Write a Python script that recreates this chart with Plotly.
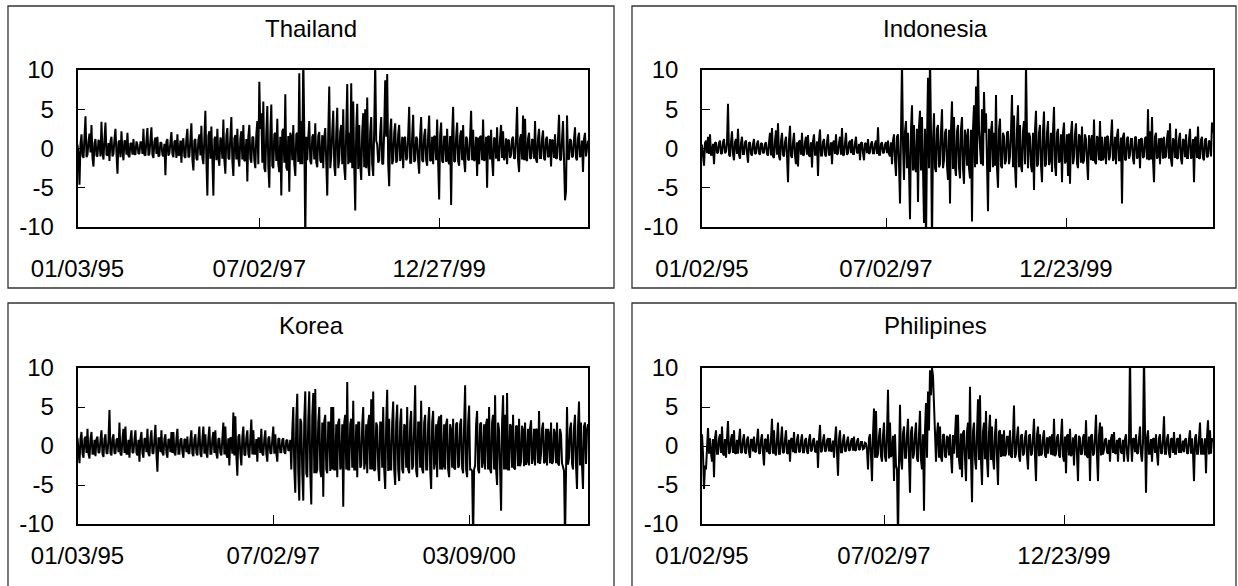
import plotly.graph_objects as go

# ---------------- data (daily returns) ----------------
thailand = [
    0.5, -0.8, -4.6, 0.6, 1.8, -0.9, -1.2, 1.0, 4.1, -1.1, -0.8, 0.9, 1.9, -0.5, 3.0, -1.2, -2.3, 0.7, 1.2, -0.9, -1.0, 1.1, 0.8, -1.0, 3.4, -0.6, -1.4, 1.2, 3.3, -0.8, -0.9, 0.7,
    -1.6, 0.9, 1.5, -1.0, -0.7, 1.2, 2.5, -0.6, -3.2, 0.8, 1.0, -1.1, 2.2, -0.4, -1.5, 1.0, 0.9, -0.8, 2.0, -0.9, -1.1, 0.7, 0.6, -0.8, 1.2, -0.7, -0.8, 0.9, 0.5, -0.7, -0.6, 0.8,
    0.8, -0.7, 2.5, -0.8, -0.9, 1.0, 2.6, -0.9, -0.7, 1.1, 2.7, -0.8, -1.2, 0.9, 1.4, -0.7, 1.5, -1.0, -0.9, 0.8, 0.7, -0.8, -1.0, 0.6, -3.4, 0.9, 1.2, -0.9, -0.6, 0.8, 2.1, -0.7,
    -1.1, 0.9, 1.0, -1.2, 1.8, -0.9, -0.8, 1.0, -1.8, 0.8, 1.3, -1.0, -1.2, 1.3, 2.5, -1.1, -1.0, 1.2, 3.2, -1.4, -2.8, 1.0, 1.2, -1.3, -1.5, 1.1, 1.8, -0.9, 2.9, -1.2, -2.0, 1.4,
    4.8, -1.5, -6.0, 1.6, 2.2, -1.3, 2.8, -1.4, -6.0, 1.2, 1.5, -1.5, 2.5, -1.2, -2.2, 1.4, 1.0, -1.3, 3.7, -1.5, -3.2, 1.6, 2.6, -1.2, -1.4, 1.5, 4.0, -1.6, -3.5, 1.3, 1.7, -1.4,
    2.5, -1.2, -2.3, 1.3, 2.2, -1.4, 3.0, -1.6, -1.5, 1.2, -4.2, 1.5, 3.0, -1.3, -1.8, 1.4, 1.5, -1.5, -2.5, 1.8, 3.5, -2.0, 8.5, 2.5, 4.5, -1.8, 6.0, -2.5, -3.0, 2.0, 5.4, -2.2,
    -5.0, 2.0, 5.6, -2.2, -2.5, 1.8, 2.0, -1.6, 3.8, -2.0, -3.0, 1.5, -6.0, 2.2, 2.5, -1.8, 6.9, -2.4, -2.8, 1.6, -5.5, 2.0, 1.5, -1.5, 3.0, -2.0, -3.5, 1.8, 2.0, -1.7, 9.6, -2.0,
    3.5, -2.0, 12.0, 2.0, -12.0, 1.5, -1.5, 1.4, 3.5, -1.6, -2.0, 1.5, 1.8, -1.4, 3.2, -1.8, -2.4, 1.6, 2.1, -1.5, -1.8, 1.7, -2.5, 1.4, 2.6, -1.8, -6.0, 2.0, 7.9, -2.5, -1.0, 2.2,
    4.8, -2.2, -3.5, 2.0, 5.2, -2.5, -1.5, 2.2, 3.0, -2.0, 5.0, -2.4, -4.0, 2.5, 8.2, -2.0, 2.0, -1.8, 8.3, -2.5, 6.0, -2.2, -7.9, 2.4, 5.7, -2.6, 3.0, -2.0, -4.0, 2.2, 4.5, -2.4,
    5.0, -2.5, 6.5, -2.0, -3.5, 2.2, 4.0, -2.0, -3.5, 2.5, 11.0, 1.0, 0.5, -1.8, -1.5, 2.0, 4.0, -1.9, -2.0, 2.4, 8.7, 1.5, 9.5, -2.0, -4.8, 2.2, 3.8, -2.0, -1.5, 2.0, 3.2, -1.8,
    -1.5, 1.8, 3.0, -1.6, -1.0, 1.5, -2.5, 1.3, 1.5, -1.5, -1.2, 1.7, 5.3, -1.8, -1.8, 1.6, 4.3, -1.7, -1.5, 1.5, 1.2, -1.6, -3.2, 1.8, 4.0, -1.5, -1.7, 1.6, 2.5, -1.5, -2.2, 1.7,
    4.2, -1.6, -1.5, 1.5, -2.0, 1.6, 1.5, -1.5, 3.7, -1.8, -6.5, 1.7, 3.3, -1.6, -1.8, 1.5, 1.5, -1.7, 2.5, -1.5, -2.0, 1.6, -7.2, 1.8, 5.3, -1.7, -1.6, 1.5, 3.3, -1.6, -2.2, 1.6,
    2.3, -1.5, 3.0, -1.6, -3.0, 1.5, 1.2, -1.4, -1.5, 1.6, 4.8, -1.5, 2.4, -1.6, -1.3, 1.5, -3.5, 1.4, -2.0, 1.5, 1.6, -1.5, 3.7, -1.6, -1.2, 1.5, -5.0, 1.6, 1.5, -1.4, 2.4, -1.5,
    -3.5, 1.4, 1.2, -1.3, 2.7, -1.5, -1.5, 1.4, 3.0, -1.2, 2.2, -1.5, -1.0, 1.3, -2.0, 1.1, 1.0, -1.2, -0.8, 1.2, 1.5, -1.3, -1.2, 1.4, 5.3, -1.5, -3.0, 1.3, 1.8, -1.4, 4.2, -1.5,
    3.8, -1.4, -1.6, 1.3, 2.0, -1.2, -1.3, 1.2, 1.0, -1.3, 3.5, -1.4, -1.8, 1.3, 2.5, -1.2, -1.2, 1.3, 2.3, -1.3, -1.5, 1.2, 1.5, -1.1, -0.9, 1.2, -2.3, 1.1, 1.0, -1.2, 1.8, -1.3,
    -1.2, 1.3, 4.3, -1.4, -1.5, 1.2, 3.5, -1.5, -6.6, -5.5, 4.2, -1.3, -1.4, 1.2, 1.0, -1.1, -1.0, 1.2, 2.7, -1.2, -1.5, 1.3, 2.0, -1.1, -0.8, 1.0, -3.0, 1.2, 2.0, -1.0, 0.5, 1.0,
]

indonesia = [
    0.5, -0.8, -2.2, 0.7, 1.0, -0.6, 1.5, -0.7, 1.8, -0.8, -0.8, 0.6, -2.0, 0.7, 0.8, -0.6, -0.5, 0.7, 1.0, -0.7, -0.6, 0.8, 1.2, -0.6, -0.4, 0.7, 5.7, -0.8, -1.0, 0.8, 2.2, -0.7,
    -1.5, 0.8, 1.2, -0.7, 2.5, -0.8, -1.3, 0.7, 1.5, -0.7, -0.7, 0.8, 1.0, -0.6, -1.8, 0.7, 0.8, -0.7, -0.9, 0.6, 1.2, -0.7, -0.6, 0.6, 1.0, -0.6, -0.8, 0.7, 0.6, -0.6, -0.5, 0.6,
    0.8, -0.7, -0.9, 0.8, 2.0, -0.9, 2.6, -1.0, -1.2, 0.9, 2.3, -0.8, 3.2, -1.0, -1.5, 0.9, 2.0, -0.8, -1.0, 0.8, 1.5, -0.9, -4.3, 1.0, 2.9, -0.9, -1.2, 0.8, 2.0, -0.9, -2.0, 0.8,
    -2.3, 0.9, 1.0, -0.8, 2.0, -0.9, -0.8, 0.8, 1.5, -0.8, 1.7, -0.9, -1.0, 0.8, -2.4, 0.9, 1.8, -0.8, -0.8, 0.9, -3.5, 1.0, 2.4, -0.9, -0.9, 0.8, 1.2, -0.8, -1.0, 0.8, 1.8, -0.9,
    -0.7, 0.8, -2.0, 0.7, 1.0, -0.7, 1.8, -0.8, -0.6, 0.7, 1.5, -0.8, 2.6, -0.9, -0.8, 0.7, 2.0, -0.8, -0.6, 0.7, 1.0, -0.6, 1.2, -0.7, -0.7, 0.7, 1.5, -0.6, -0.5, 0.6, -1.5, 0.7,
    0.8, -0.6, -1.5, 0.7, 0.6, -0.6, 1.2, -0.7, -0.5, 0.6, 0.9, -0.6, -0.6, 0.6, 1.0, -0.7, 2.7, -0.8, -0.8, 0.6, 0.8, -0.6, -0.5, 0.5, 0.8, -0.6, 1.0, -0.7, -1.0, 0.8, -2.0, 1.0,
    1.8, -1.5, -3.5, 1.5, 1.8, -2.0, -7.0, 2.0, 11.0, 0.5, -4.0, 2.2, 3.5, -2.5, 2.0, -2.5, -9.0, 2.5, 5.5, -2.8, 3.0, -2.5, -3.0, 2.5, -6.8, 2.8, 4.8, -2.8, 4.0, -2.5, -9.5, 2.5,
    -12.0, 1.0, 9.0, -2.5, 12.0, 2.0, -12.0, 1.0, 4.5, -2.5, -3.0, 2.5, 3.0, -2.4, -2.0, 2.2, 5.0, -2.5, -1.5, 2.0, 2.5, -2.2, -4.0, 2.4, -7.0, 2.5, 6.0, -2.6, 4.0, -2.4, -3.5, 2.2,
    3.0, -2.4, -3.8, 2.5, 4.0, -2.5, -4.5, 2.4, 1.5, -2.2, 2.5, -2.5, -3.8, 2.4, -9.3, 2.5, 5.5, -2.4, 7.9, -2.0, 11.0, 2.5, 0.5, -2.0, 5.0, -2.2, 7.2, 2.0, 4.5, -2.4, -8.0, 2.5,
    -3.0, 2.2, 3.5, -2.4, 2.0, -2.2, 6.8, -2.5, -5.0, 2.4, 3.8, -2.2, -2.5, 2.0, 1.5, -2.0, -1.5, 2.0, 2.2, -2.0, -1.0, 2.2, 6.8, -2.4, 4.2, -2.2, -5.0, 2.5, 5.5, -2.4, 3.0, -2.2,
    -3.0, 2.2, 3.5, -2.0, 11.0, 1.5, -2.5, 2.0, 1.5, -2.2, -3.0, 2.0, -5.3, 2.4, 4.8, -2.3, -2.0, 2.0, 3.0, -2.2, -4.3, 2.2, 4.7, -2.3, -2.0, 2.0, 3.5, -2.1, -1.5, 2.0, -3.0, 2.2,
    5.3, -2.2, -3.5, 2.0, 2.5, -1.8, -1.5, 1.8, -4.3, 2.0, 3.3, -1.9, -1.5, 1.8, -3.5, 1.9, -4.5, 2.0, 3.5, -2.0, -1.2, 1.8, 3.2, -1.9, -2.5, 1.8, 1.5, -1.8, 2.8, -1.9, -1.5, 1.8,
    1.2, -1.6, -4.0, 1.7, 1.0, -1.5, 1.7, -1.6, 3.7, -1.7, -2.0, 1.6, 1.2, -1.5, 3.5, -1.6, 1.5, -1.5, -1.0, 1.5, -2.0, 1.6, 1.5, -1.5, -1.0, 1.5, 3.7, -1.6, -1.2, 1.5, -2.0, 1.6,
    2.5, -1.5, -1.5, 1.4, -7.0, 1.5, 2.0, -1.4, -1.5, 1.3, 1.5, -1.3, -0.8, 1.2, 1.2, -1.3, -2.0, 1.4, 1.5, -1.3, -1.0, 1.2, -2.5, 1.3, 1.2, -1.2, -1.0, 1.3, 1.5, -1.4, 5.0, -1.5,
    2.2, -1.4, 4.0, -1.5, -4.3, 1.5, 2.0, -1.3, -1.0, 1.3, -2.0, 1.3, 1.2, -1.3, 1.5, -1.2, -1.0, 1.2, 2.3, -1.3, 3.2, -1.4, -2.3, 1.3, 1.0, -1.2, 2.5, -1.3, -1.2, 1.2, 2.0, -1.3,
    -2.0, 1.2, 1.0, -1.1, 1.8, -1.2, -1.2, 1.2, 2.5, -1.3, -1.0, 1.2, -4.3, 1.3, 1.5, -1.2, 2.8, -1.3, -1.2, 1.1, 1.5, -1.2, -1.5, 1.1, 1.3, -1.1, -1.0, 1.0, 0.8, -1.0, 3.3, 2.0,
]

korea = [
    1.0, -1.0, -2.2, 0.9, 1.8, -1.0, -1.5, 0.9, 1.2, -0.9, 2.2, -1.0, -1.6, 0.9, 1.8, -1.0, -1.0, 0.8, -1.3, 0.9, 1.2, -0.9, -0.8, 0.8, 2.0, -1.0, -1.4, 0.9, 1.5, -0.9, -1.0, 0.8,
    4.6, -0.9, -1.2, 0.9, 1.5, -0.9, -1.0, 0.8, 1.0, -0.8, 3.0, -1.0, -1.2, 0.9, 2.2, -0.9, 2.5, -1.0, -1.0, 0.8, -1.5, 0.9, 2.0, -0.9, -0.8, 0.8, 2.0, -0.9, -1.2, 0.8, -2.0, 0.9,
    1.8, -0.9, -1.5, 0.9, 1.0, -0.8, 2.2, -1.0, -1.3, 0.9, 2.0, -0.9, -1.0, 0.8, 2.7, -1.0, -3.3, 1.0, 1.0, -0.8, 2.0, -0.9, -1.2, 0.9, 1.5, -0.9, -1.5, 0.9, 0.8, -0.8, 1.8, -0.9,
    1.8, -0.9, -1.2, 0.9, 2.2, -1.0, -1.0, 0.8, 1.0, -0.8, -1.5, 0.9, 0.8, -0.8, 1.2, -0.9, -1.0, 0.8, 2.0, -1.0, -1.3, 0.9, 1.5, -0.9, -1.2, 0.9, 2.5, -1.0, -1.4, 0.9, 2.5, -1.0,
    1.5, -0.9, -1.5, 1.0, 2.5, -1.0, -1.0, 0.9, 1.8, -0.9, 2.0, -1.0, -1.6, 0.9, 1.0, -0.9, -1.2, 1.0, 3.0, -1.1, 2.5, -1.0, -1.5, 1.0, -2.5, 1.1, 1.0, -1.0, 4.3, -1.2, 3.8, -1.2,
    -3.8, 1.2, 1.5, -1.0, -2.5, 1.1, 2.5, -1.1, -1.2, 1.0, 2.0, -1.0, -1.5, 1.0, 3.4, -1.1, 2.0, -1.0, -1.0, 0.9, -2.0, 1.0, 1.0, -0.9, 2.2, -1.0, -1.2, 0.9, 2.0, -1.0, -2.0, 1.0,
    1.2, -0.9, -1.0, 0.9, 2.5, -1.0, 1.5, -0.9, -2.0, 0.9, 1.0, -0.8, -0.8, 0.8, 1.0, -0.8, -1.0, 0.7, 0.8, -0.6, -0.5, 0.8, -3.0, 2.0, 5.0, -3.0, -6.0, 3.5, 6.7, -3.5, -7.0, 3.5,
    3.0, -3.5, -7.0, 3.5, 7.0, -3.5, -4.0, 3.5, 7.0, -3.5, -7.5, 3.8, 6.8, -3.5, 7.3, -3.5, -3.0, 3.0, 5.0, -3.2, -4.0, 3.0, -6.5, 3.2, 4.0, -3.0, -3.5, 3.0, 3.0, -3.2, 5.0, -3.0,
    5.0, -3.0, -3.0, 2.8, -4.0, 3.0, 3.5, -3.0, -2.5, 2.8, -7.8, 3.0, 4.0, -3.0, 8.2, -3.0, -3.0, 2.8, 3.5, -2.8, 5.8, -3.0, -3.0, 2.8, -4.0, 3.0, 3.0, -2.8, -2.5, 2.8, 5.0, -3.0,
    -2.0, 2.8, -3.5, 3.0, 4.0, -3.0, 6.0, -3.0, 7.0, -3.2, -3.0, 3.0, 2.5, -2.8, -4.5, 3.0, 3.0, -2.8, 5.0, -3.0, -5.5, 3.0, 7.2, -3.2, 3.5, -3.0, -3.0, 3.0, 5.7, -3.0, -5.0, 3.0,
    5.3, -3.0, -4.5, 3.0, 4.8, -3.0, -3.5, 2.8, 2.5, -2.8, 5.0, -3.0, -3.5, 3.0, 4.5, -3.0, -2.5, 2.8, 7.8, -3.2, -4.0, 3.0, 3.0, -2.8, 5.8, -3.0, -3.5, 3.0, 4.0, -3.0, -3.0, 2.8,
    5.0, -3.0, -5.5, 3.0, 4.5, -3.0, -2.0, 2.8, -4.0, 3.0, 3.8, -3.0, 4.0, -3.0, -2.5, 2.8, -3.0, 2.8, 3.5, -3.0, -4.0, 2.8, 2.0, -2.8, 3.5, -2.8, -3.0, 2.8, 3.0, -2.8, -2.5, 2.8,
    3.5, -2.8, -3.5, 2.8, 7.8, -3.0, -4.0, 3.0, 5.2, -3.0, -3.0, -3.2, -12.0, -3.0, -2.5, 2.8, 4.5, -3.0, -3.5, 2.8, 3.0, -2.8, -2.0, 2.8, -3.0, 2.8, 3.5, -3.0, 5.0, -3.0, -3.5, 3.0,
    4.0, -3.0, 6.5, -3.0, -5.0, 3.0, 2.0, -3.0, -8.3, 3.0, 6.5, -3.0, 4.0, -3.0, 6.8, -3.0, -3.0, 2.8, 2.5, -2.8, 4.0, -2.8, -3.0, 2.6, 2.5, -2.6, 3.5, -2.6, -2.0, 2.6, 2.0, -2.6,
    3.0, -2.4, -2.0, 2.2, -2.5, 2.3, 3.3, -2.3, -1.5, 2.2, -2.5, 2.2, 2.0, -2.2, 4.5, -2.3, -1.0, 2.2, 3.0, -2.2, -2.0, 2.2, -2.5, 2.2, 1.5, -2.2, 3.0, -2.3, -2.0, 2.2, 1.5, -2.2,
    3.0, -2.2, -2.5, 2.2, 1.5, -2.2, -3.0, -3.2, -12.0, -3.0, 5.0, -2.4, -1.5, 2.2, 3.0, -2.3, -3.0, 2.4, 4.0, -2.5, -5.5, 2.5, 5.7, -2.5, 3.0, -2.5, -5.5, 2.5, 3.0, -2.3, 2.0, 2.8,
]

philipines = [
    1.5, -1.0, -5.5, -2.5, -3.0, 1.0, 2.3, -1.0, 1.0, -0.9, -2.0, 0.9, -4.0, 1.0, 2.0, -1.0, -1.0, 0.9, 1.5, -0.9, 2.5, -1.0, -1.2, 0.9, -1.5, 1.0, 3.2, -1.0, -0.8, 0.9, 1.5, -0.9,
    2.0, -0.9, -1.0, 0.8, -1.0, 0.9, 2.2, -0.9, -0.8, 0.8, 1.5, -0.8, -1.0, 0.8, 1.2, -0.8, -1.5, 0.8, 0.8, -0.7, 1.2, -0.8, -0.7, 0.8, 2.2, -0.9, -1.0, 0.8, 1.5, -0.8, -2.5, 0.9,
    0.8, -0.8, 1.5, -0.9, -1.0, 0.9, 3.5, -1.0, 2.0, -0.9, -1.2, 0.9, 3.0, -1.0, -1.0, 0.9, 2.5, -0.9, -0.8, 0.8, 2.0, -0.9, -1.0, 0.8, -2.0, 0.9, 1.0, -0.8, 1.8, -0.8, -0.8, 0.8,
    1.5, -0.8, -0.7, 0.7, 1.5, -0.8, -0.8, 0.7, 1.0, -0.7, -1.0, 0.8, 1.5, -0.7, -0.5, 0.7, 1.0, -0.7, -0.8, 0.7, -2.8, 0.9, 2.7, -0.8, -0.6, 0.7, 1.5, -0.7, -0.6, 0.7, 1.0, -0.7,
    1.0, -0.7, -0.6, 0.7, -1.5, 0.8, 2.5, -0.8, -3.8, 0.9, 2.0, -0.8, -0.8, 0.7, 1.5, -0.7, -0.6, 0.6, 1.2, -0.6, -0.5, 0.6, 1.0, -0.6, 1.2, -0.6, -0.5, 0.6, 1.0, -0.5, -0.4, 0.5,
    0.5, -0.4, -0.3, 0.4, 0.3, -0.5, -3.0, 1.0, 1.5, -1.2, -4.5, 1.5, 4.8, -1.5, 4.5, -1.5, -1.0, 1.2, 2.3, -1.3, -2.0, 1.3, 3.0, -1.4, -2.0, 1.5, 7.2, -1.6, 3.0, -1.4, -1.0, 1.3,
    -4.5, 1.5, -2.5, -3.0, -12.0, -2.0, 5.3, -1.8, -3.0, 1.6, 2.5, -1.5, -1.5, 1.5, 3.5, -1.6, -6.0, 1.8, 2.5, -1.6, -1.0, 1.5, 3.0, -1.6, -2.0, 1.6, 4.5, -1.8, -3.0, 1.5, -8.3, 2.0,
    5.5, -1.5, 7.0, 2.0, 9.7, 6.5, 10.0, 9.0, 6.0, 2.0, -2.0, 1.5, 3.0, -1.5, 2.5, -1.5, -2.0, 1.4, 1.5, -1.3, -1.5, 1.3, 1.0, -1.2, 1.5, -1.3, -3.5, 1.4, -1.0, 1.3, 4.0, -1.5,
    4.0, -1.8, -3.0, 1.6, -4.0, 1.7, 2.0, -1.6, -4.5, 1.8, 3.0, -1.7, 7.6, -1.8, -7.2, 1.9, 3.0, -1.7, -3.0, 1.7, 6.0, -1.8, 6.5, -1.9, -5.0, 1.8, 3.0, -1.7, 4.5, -1.8, -4.0, 1.8,
    4.0, -1.8, 2.5, -1.6, -3.0, 1.6, 3.5, -1.7, -5.0, 1.8, 2.0, -1.4, 1.5, -1.3, 2.0, -1.3, -1.0, 1.2, 1.2, -1.2, 2.0, -1.3, -1.5, 1.3, 5.2, -1.5, -1.0, 1.2, 2.5, -1.3, -2.0, 1.3,
    1.5, -1.2, -1.0, 1.1, 2.0, -1.2, -3.0, 1.3, 1.5, -1.2, -1.0, 1.1, 3.5, -1.3, -4.5, 1.4, 2.5, -1.3, 1.5, -1.2, -1.0, 1.1, 2.0, -1.2, -1.5, 1.1, -1.0, 1.0, 1.2, -1.1, 1.5, -1.2,
    3.5, -1.3, -1.0, 1.1, 1.5, -1.2, -1.5, 1.2, 3.5, -1.3, -2.0, 1.2, -3.5, 1.3, 1.5, -1.2, 2.2, -1.3, -1.0, 1.1, -2.5, 1.2, 1.5, -1.2, -4.5, 1.3, 1.0, -1.1, -1.0, 1.1, 1.5, -1.2,
    3.3, -1.3, -1.5, 1.2, -4.5, 1.3, 1.5, -1.2, -1.0, 1.1, 4.0, -1.3, -4.5, 1.3, 3.0, -1.2, 2.5, -1.1, -0.5, 0.8, 1.0, -0.8, -1.0, 0.8, -2.0, 0.9, 1.5, -0.9, 1.8, -0.9, -1.0, 0.8,
    -2.0, 0.9, 1.0, -0.8, -1.0, 0.8, -2.0, 0.9, 1.5, -0.9, -2.0, 0.5, 12.0, 0.5, -2.0, 0.9, 1.0, -0.8, 1.5, -0.9, -1.0, 0.9, 2.5, -1.0, -2.0, 0.5, 12.0, 2.0, -6.0, 1.0, 2.0, -1.0,
    -1.0, 0.9, -2.0, 0.9, 1.0, -0.9, 1.5, -1.0, -2.5, 1.0, 1.5, -0.9, -1.0, 0.9, 3.8, -1.0, -1.0, 0.9, 1.5, -0.9, -1.5, 0.9, 1.0, -0.9, 1.8, -1.0, -1.0, 0.9, 1.0, -0.9, 1.5, -0.9,
    -0.5, 0.7, -0.8, 0.8, 1.0, -0.9, -1.0, 0.9, 2.0, -1.0, 1.0, -0.9, -4.5, 1.0, 1.5, -1.0, -1.0, 1.0, 3.0, -1.1, 1.0, -1.0, -1.0, 1.0, -3.5, 1.1, 3.3, -1.1, 2.0, -1.0, 1.0, 0.5,
]

panel_titles = ["Thailand", "Indonesia", "Korea", "Philipines"]

# index of the observation that carries each date label
thailand_tick_idx = [0, 182, 362]
thailand_tick_text = ["01/03/95", "07/02/97", "12/27/99"]
indonesia_tick_idx = [0, 184, 364]
indonesia_tick_text = ["01/02/95", "07/02/97", "12/23/99"]
korea_tick_idx = [0, 196, 392]
korea_tick_text = ["01/03/95", "07/02/97", "03/09/00"]
philipines_tick_idx = [0, 182, 362]
philipines_tick_text = ["01/02/95", "07/02/97", "12/23/99"]

y_tickvals = [-10, -5, 0, 5, 10]
y_ticktext = ["-10", "-5", "0", "5", "10"]

# ---------------- layout geometry (pixels) ----------------
W, H = 1238, 586
FONT = "Liberation Sans, Arial, Helvetica, sans-serif"

col_plot_x = [(77.5, 588.0), (702.0, 1213.0)]
row_plot_y = [(70.0, 227.0), (368.0, 524.0)]
row_xlabel_standoff = [19, 9]
col_box_x = [(8.0, 614.0), (632.0, 1236.0)]
row_box_y = [(6.0, 288.0), (303.0, 592.0)]
col_title_x = [311.0, 935.0]
row_title_y = [28.0, 326.0]

panels = [
    (thailand, thailand_tick_idx, thailand_tick_text, 0, 0),
    (indonesia, indonesia_tick_idx, indonesia_tick_text, 0, 1),
    (korea, korea_tick_idx, korea_tick_text, 1, 0),
    (philipines, philipines_tick_idx, philipines_tick_text, 1, 1),
]

fig = go.Figure()
layout = {}
shapes = []
annotations = []

for k, (vals, tidx, ttext, r, c) in enumerate(panels):
    suffix = "" if k == 0 else str(k + 1)
    xname, yname = "x" + suffix, "y" + suffix
    n = len(vals)
    fig.add_trace(go.Scatter(
        x=list(range(n)), y=vals, mode="lines",
        line=dict(color="black", width=2.0),
        xaxis=xname, yaxis=yname, showlegend=False, hoverinfo="skip",
    ))
    x0, x1 = col_plot_x[c]
    y0, y1 = row_plot_y[r]
    tickfont = dict(family=FONT, size=24, color="black")
    layout["xaxis" + suffix] = dict(
        domain=[x0 / W, x1 / W], range=[0, n - 1], anchor=yname,
        tickmode="array", tickvals=tidx, ticktext=ttext,
        ticks="inside", ticklen=9, tickwidth=1.3, tickcolor="black",
        showline=True, mirror=True, linecolor="black", linewidth=1.5,
        showgrid=False, zeroline=False, tickfont=tickfont,
        ticklabelstandoff=row_xlabel_standoff[r], fixedrange=True, automargin=False,
    )
    layout["yaxis" + suffix] = dict(
        domain=[1 - y1 / H, 1 - y0 / H], range=[-10, 10], anchor=xname,
        tickmode="array", tickvals=y_tickvals, ticktext=y_ticktext,
        ticks="inside", ticklen=8, tickwidth=1.3, tickcolor="black",
        showline=True, mirror=True, linecolor="black", linewidth=1.5,
        showgrid=False, zeroline=False, tickfont=tickfont,
        ticklabelstandoff=17, fixedrange=True, automargin=False,
    )
    bx0, bx1 = col_box_x[c]
    by0, by1 = row_box_y[r]
    shapes.append(dict(
        type="rect", xref="paper", yref="paper",
        x0=bx0 / W, x1=bx1 / W, y0=1 - by1 / H, y1=1 - by0 / H,
        line=dict(color="#333333", width=1.3), fillcolor="rgba(0,0,0,0)",
        layer="below",
    ))
    annotations.append(dict(
        text=panel_titles[k], xref="paper", yref="paper",
        x=col_title_x[c] / W, y=1 - row_title_y[r] / H,
        xanchor="center", yanchor="middle", showarrow=False,
        font=dict(family=FONT, size=24, color="black"),
    ))

fig.update_layout(
    width=W, height=H, autosize=False,
    margin=dict(l=0, r=0, t=0, b=0, pad=0, autoexpand=False),
    paper_bgcolor="white", plot_bgcolor="white",
    shapes=shapes, annotations=annotations,
    **layout,
)

fig.write_html("out.html", config={"displayModeBar": False},
               post_script="document.body.style.margin='0px';")
